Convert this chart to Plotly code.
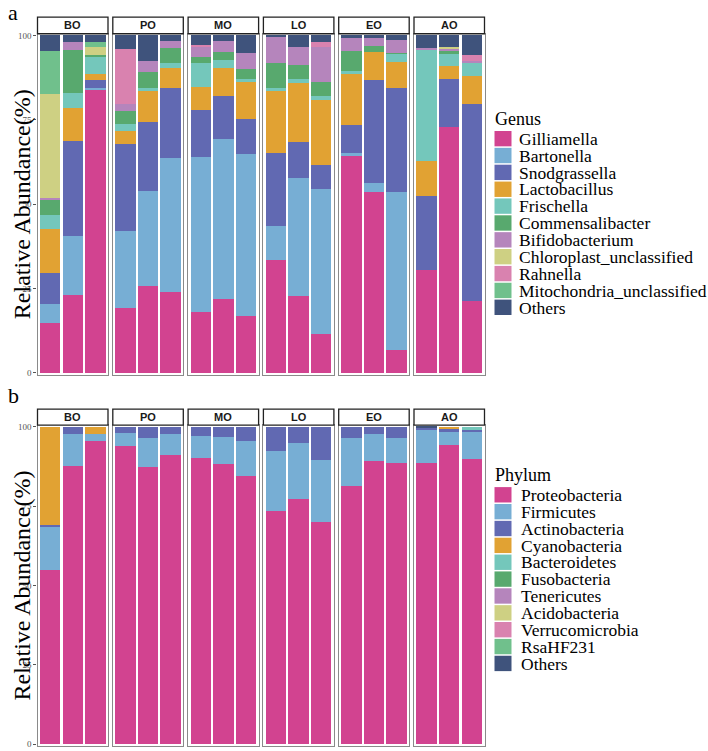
import plotly.graph_objects as go

# ---------------- data ----------------
groups = ["BO", "PO", "MO", "LO", "EO", "AO"]
sample_pos = [1, 2, 3]

genus_names = ["Gilliamella", "Bartonella", "Snodgrassella", "Lactobacillus", "Frischella",
               "Commensalibacter", "Bifidobacterium", "Chloroplast_unclassified", "Rahnella",
               "Mitochondria_unclassified", "Others"]
# 18 samples: BO1-3, PO1-3, MO1-3, LO1-3, EO1-3, AO1-3
gilliamella = [14.7, 23.1, 84.0, 19.1, 25.9, 24.0, 18.1, 21.8, 16.9, 33.4, 22.7, 11.4, 64.3, 53.5, 6.8, 30.5, 73.0, 21.2]
bartonella = [5.8, 17.5, 0.5, 23.1, 28.0, 39.8, 46.0, 47.4, 48.1, 10.1, 35.2, 43.1, 0.8, 2.7, 46.7, 0.0, 0.0, 0.0]
snodgrassella = [9.1, 28.0, 2.3, 25.6, 20.5, 20.7, 13.9, 12.9, 10.3, 21.8, 10.4, 7.2, 8.3, 30.6, 31.0, 21.8, 14.0, 58.4]
lactobacillus = [13.1, 9.9, 1.8, 3.9, 9.2, 5.9, 6.7, 8.3, 10.8, 18.6, 17.5, 19.2, 15.2, 8.3, 7.7, 10.4, 3.9, 8.3]
frischella = [4.0, 4.5, 5.1, 2.2, 0.9, 1.4, 7.0, 2.4, 1.0, 0.5, 1.3, 1.3, 0.9, 0.0, 2.5, 32.9, 3.7, 3.9]
commensalibacter = [4.5, 12.7, 0.5, 3.6, 4.6, 4.4, 1.8, 2.3, 3.1, 7.3, 4.2, 3.9, 5.9, 1.8, 0.2, 0.0, 0.9, 0.0]
bifidobacterium = [0.6, 2.4, 0.0, 2.1, 3.4, 2.3, 3.2, 3.2, 4.5, 7.7, 5.4, 10.6, 3.9, 2.2, 3.7, 0.8, 0.6, 0.7]
chloroplast = [30.8, 0.0, 2.5, 0.0, 0.0, 0.0, 0.0, 0.0, 0.0, 0.0, 0.0, 0.0, 0.0, 0.0, 0.0, 0.0, 0.6, 0.0]
rahnella = [0.0, 0.0, 0.0, 16.5, 0.0, 0.0, 0.5, 0.0, 0.0, 0.0, 0.0, 1.3, 0.0, 0.0, 0.0, 0.0, 0.0, 1.6]
mitochondria = [12.9, 0.0, 1.3, 0.0, 0.0, 0.0, 0.0, 0.0, 0.0, 0.0, 0.0, 0.0, 0.0, 0.0, 0.0, 0.0, 0.0, 0.0]
genus_others = [4.5, 1.9, 2.0, 3.9, 7.5, 1.5, 2.8, 1.7, 5.3, 0.6, 3.3, 2.0, 0.7, 0.9, 1.4, 3.6, 3.3, 5.9]

phylum_names = ["Proteobacteria", "Firmicutes", "Actinobacteria", "Cyanobacteria", "Bacteroidetes",
                "Fusobacteria", "Tenericutes", "Acidobacteria", "Verrucomicrobia", "RsaHF231", "Others"]
proteobacteria = [55.0, 87.7, 95.5, 93.9, 87.2, 91.2, 90.2, 88.4, 84.6, 73.6, 77.2, 69.9, 81.2, 89.2, 88.6, 88.5, 94.2, 89.7]
firmicutes = [13.5, 9.9, 2.2, 4.0, 9.2, 6.4, 6.9, 8.4, 10.9, 18.8, 17.6, 19.5, 15.1, 8.5, 7.9, 10.5, 4.2, 8.5]
actinobacteria = [0.7, 2.4, 0.0, 2.1, 3.6, 2.4, 2.9, 3.2, 4.5, 7.6, 5.2, 10.6, 3.7, 2.3, 3.5, 0.6, 1.0, 0.8]
cyanobacteria = [30.8, 0.0, 2.3, 0.0, 0.0, 0.0, 0.0, 0.0, 0.0, 0.0, 0.0, 0.0, 0.0, 0.0, 0.0, 0.0, 0.6, 0.0]
bacteroidetes = [0.0] * 17 + [1.0]
fusobacteria = [0.0] * 18
tenericutes = [0.0] * 18
acidobacteria = [0.0] * 18
verrucomicrobia = [0.0] * 18
rsahf231 = [0.0] * 18
phylum_others = [0.0] * 15 + [0.4, 0.0, 0.0]

palette = ["#D24390", "#77AED4", "#6169B2", "#E1A233", "#74C7BB", "#58A96E",
           "#B585BC", "#CED083", "#D982AF", "#70C08C", "#3F537C"]

y_ticks = [0, 25, 50, 75, 100]
y_ticklabels = ["0", "25", "50", "75", "100"]

genus_values = [gilliamella, bartonella, snodgrassella, lactobacillus, frischella, commensalibacter,
                bifidobacterium, chloroplast, rahnella, mitochondria, genus_others]
phylum_values = [proteobacteria, firmicutes, actinobacteria, cyanobacteria, bacteroidetes, fusobacteria,
                 tenericutes, acidobacteria, verrucomicrobia, rsahf231, phylum_others]

# ---------------- layout geometry (px) ----------------
W, H = 708, 751
SERIF = "Liberation Serif, Times New Roman, serif"
SANS = "Liberation Sans, Arial, sans-serif"
facet_left0, facet_step, facet_w = 37.5, 75.3, 70.5
panels = [
    dict(top=31.0, bottom=374.6, strip=(14.3, 31.0), label="a", label_y=10,
         legend_title="Genus", legend_title_y=117, legend_y0=129, legend_text_x=517,
         names=genus_names, values=genus_values),
    dict(top=425.5, bottom=748.9, strip=(409.3, 425.5), label="b", label_y=396,
         legend_title="Phylum", legend_title_y=476, legend_y0=488, legend_text_x=519,
         names=phylum_names, values=phylum_values),
]


def px_x(v):
    return v / W


def px_y(v):
    return 1 - v / H


fig = go.Figure()
shapes = []
annotations = []
layout_axes = {}

for r, p in enumerate(panels):
    for c, g in enumerate(groups):
        k = r * 6 + c + 1
        xa = "x" if k == 1 else f"x{k}"
        ya = "y" if k == 1 else f"y{k}"
        for name, vals, col in zip(p["names"], p["values"], palette):
            fig.add_trace(go.Bar(
                x=sample_pos, y=vals[3 * c:3 * c + 3], name=name,
                marker=dict(color=col, line=dict(width=0)),
                xaxis=xa, yaxis=ya, showlegend=False, width=0.9,
                hovertemplate=f"{g} %{{x}}<br>{name}: %{{y}}%<extra></extra>",
            ))
        x0 = facet_left0 + c * facet_step
        x1 = x0 + facet_w
        xkey = "xaxis" if k == 1 else f"xaxis{k}"
        ykey = "yaxis" if k == 1 else f"yaxis{k}"
        layout_axes[xkey] = dict(
            domain=[px_x(x0), px_x(x1)], anchor=ya, range=[0.44, 3.56],
            showticklabels=False, ticks="", showgrid=False, zeroline=False,
            showline=True, mirror=True, linecolor="#8a8a8a", linewidth=1.2, fixedrange=True,
        )
        layout_axes[ykey] = dict(
            domain=[px_y(p["bottom"]), px_y(p["top"])], anchor=xa, range=[-0.5, 100.5],
            tickvals=y_ticks, ticktext=y_ticklabels, showticklabels=(c == 0),
            ticks="outside" if c == 0 else "", ticklen=3, tickcolor="#555555", tickwidth=1,
            tickfont=dict(family=SERIF, size=9, color="#555555"),
            showgrid=False, zeroline=False,
            showline=True, mirror=True, linecolor="#8a8a8a", linewidth=1.2, fixedrange=True,
        )
        # facet strip
        s0, s1 = p["strip"]
        shapes.append(dict(type="rect", xref="paper", yref="paper",
                           x0=px_x(x0), x1=px_x(x1), y0=px_y(s1), y1=px_y(s0),
                           line=dict(color="#222222", width=1.3), fillcolor="white", layer="above"))
        annotations.append(dict(xref="paper", yref="paper", x=px_x((x0 + x1) / 2), y=px_y((s0 + s1) / 2),
                                text=f"<b>{g}</b>", showarrow=False, xanchor="center", yanchor="middle",
                                font=dict(family=SANS, size=11, color="#1a1a1a")))

    # y-axis title
    annotations.append(dict(xref="paper", yref="paper", x=px_x(22), y=px_y((p["top"] + p["bottom"]) / 2),
                            text="Relative Abundance(%)", textangle=-90, showarrow=False,
                            xanchor="center", yanchor="middle",
                            font=dict(family=SERIF, size=24, color="black")))
    # panel label
    annotations.append(dict(xref="paper", yref="paper", x=px_x(6), y=px_y(p["label_y"]),
                            text=p["label"], showarrow=False, xanchor="left", yanchor="middle",
                            font=dict(family=SERIF, size=22, color="black")))
    # legend (built from names & palette)
    annotations.append(dict(xref="paper", yref="paper", x=px_x(493), y=px_y(p["legend_title_y"]),
                            text=p["legend_title"], showarrow=False, xanchor="left", yanchor="middle",
                            font=dict(family=SERIF, size=18, color="black")))
    for i, (name, col) in enumerate(zip(p["names"], palette)):
        yt = p["legend_y0"] + i * 17
        shapes.append(dict(type="rect", xref="paper", yref="paper",
                           x0=px_x(494.5), x1=px_x(511.5), y0=px_y(yt + 15.5), y1=px_y(yt),
                           line=dict(width=0), fillcolor=col))
        annotations.append(dict(xref="paper", yref="paper", x=px_x(p["legend_text_x"]), y=px_y(yt + 8),
                                text=name, showarrow=False, xanchor="left", yanchor="middle",
                                font=dict(family=SERIF, size=17.5, color="black")))

fig.update_layout(
    width=W, height=H, margin=dict(l=0, r=0, t=0, b=0),
    paper_bgcolor="white", plot_bgcolor="white",
    barmode="stack", bargap=0.1, showlegend=False,
    shapes=shapes, annotations=annotations,
    **layout_axes,
)

fig.write_html(
    "out.html",
    config={"displayModeBar": False},
    post_script="document.body.style.margin='0px';document.body.style.overflow='hidden';",
)
